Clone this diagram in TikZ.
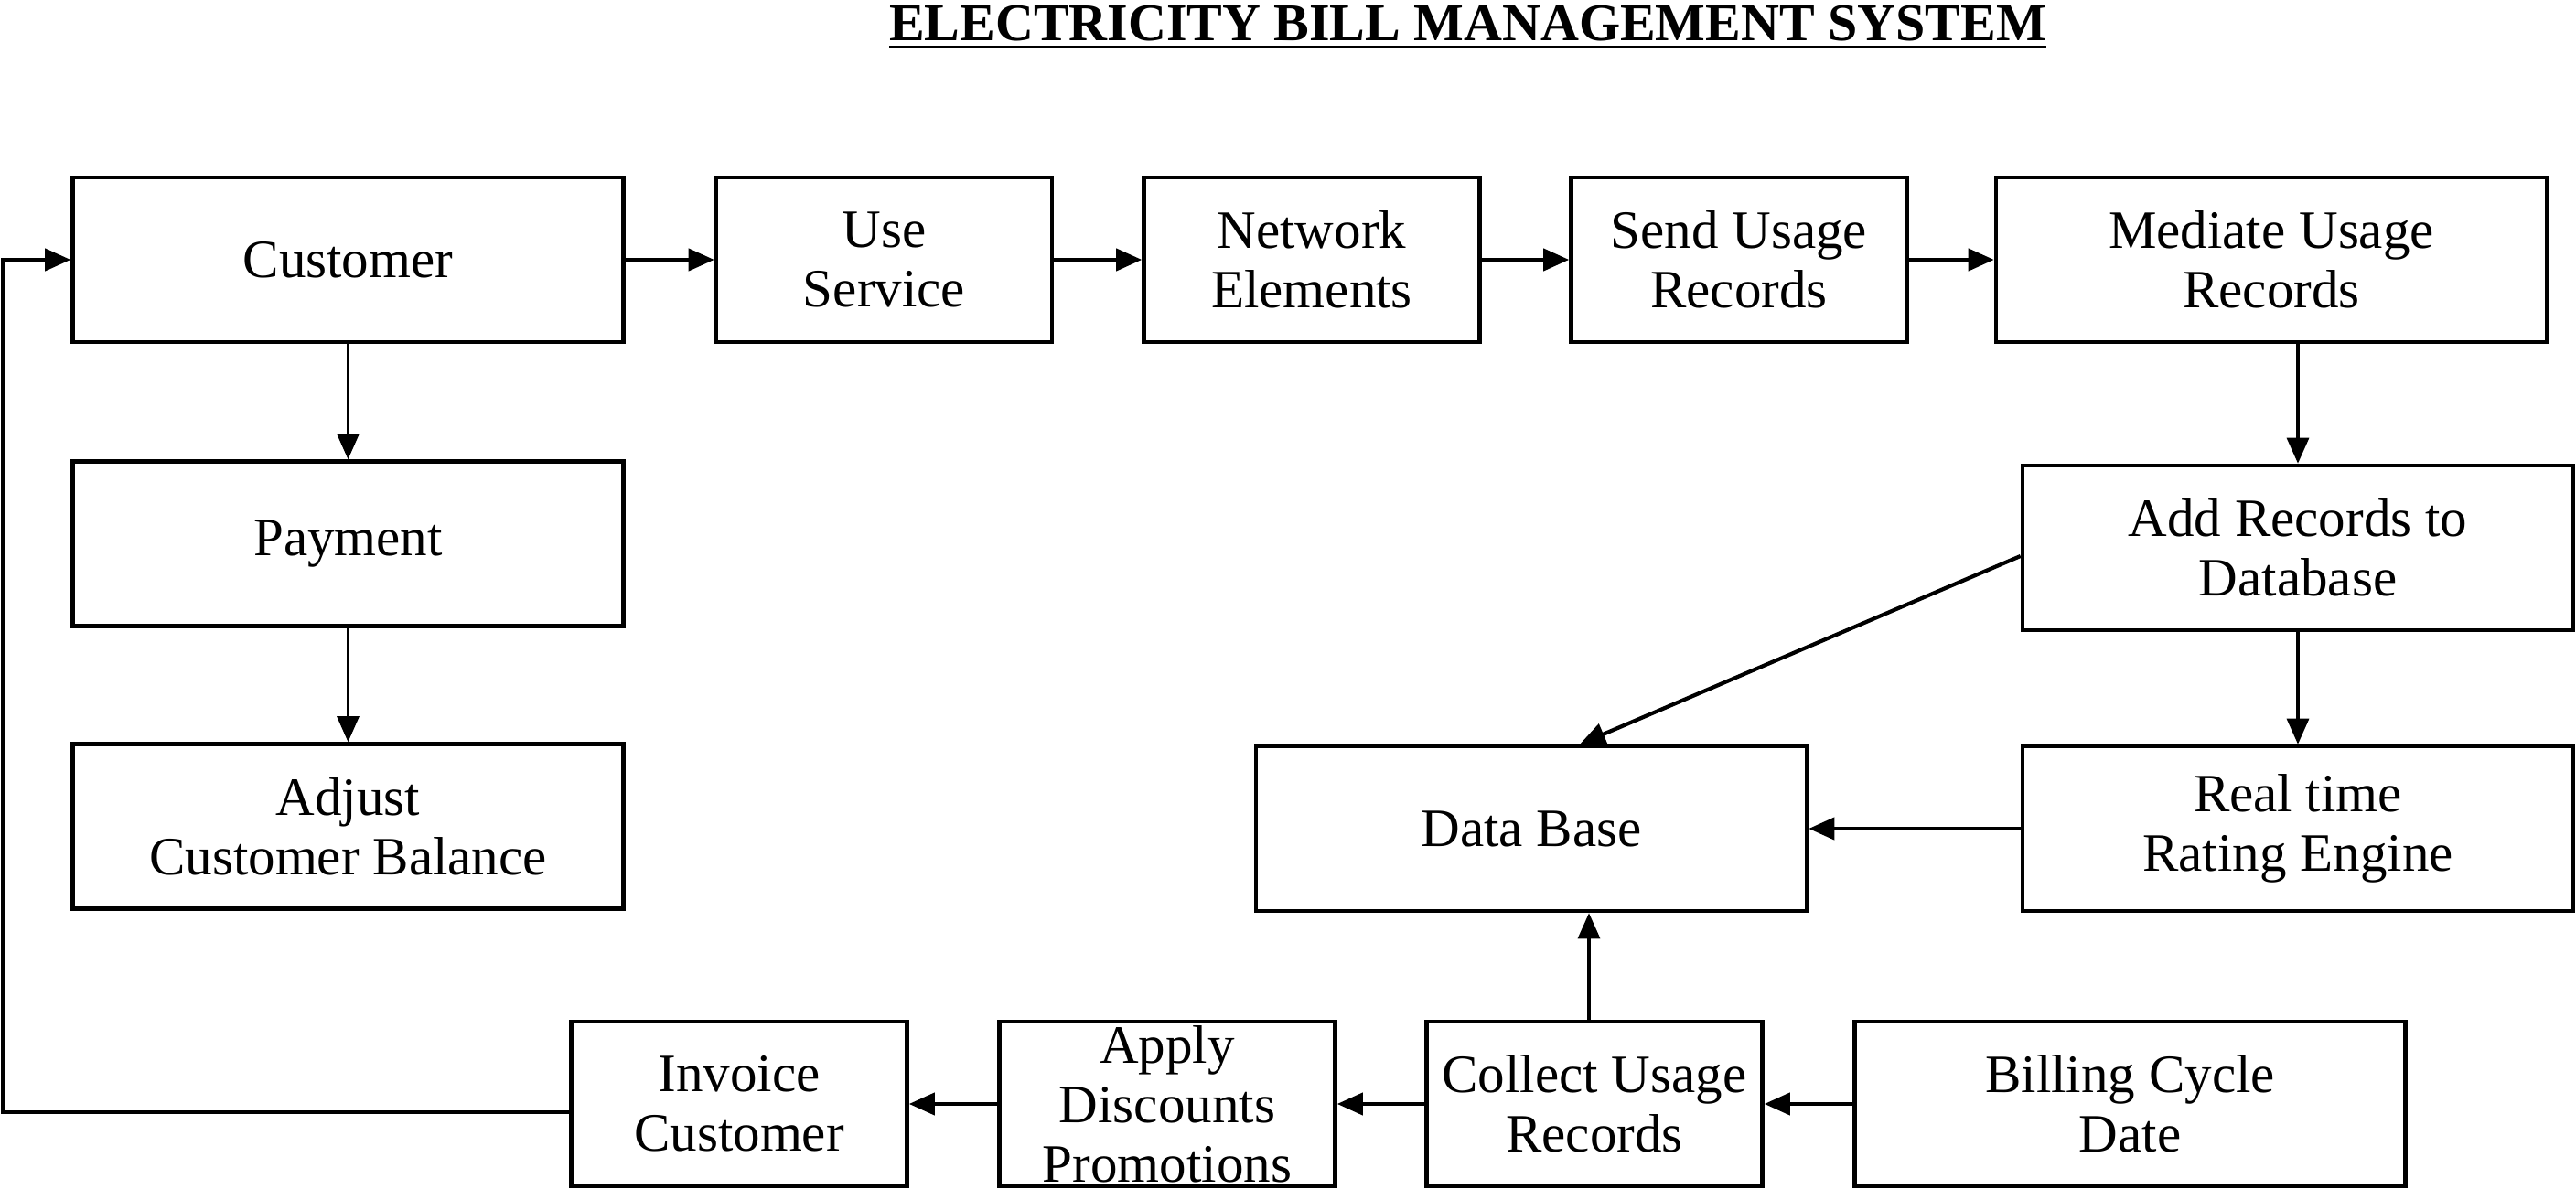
\documentclass[tikz,border=0pt]{standalone}
\usepackage{fontspec}
\setmainfont{Liberation Serif}
\usetikzlibrary{arrows.meta}

\newcommand{\titleunder}[1]{\setbox0\hbox{#1}\rlap{\rule[-2.3pt]{\wd0}{0.9pt}}\box0}

\begin{document}
\begin{tikzpicture}[
        blk/.style={draw, line width=1.3pt, inner sep=0pt, align=center,
            minimum height=1.8cm, font=\fontsize{16.8}{18.5}\selectfont},
        wide/.style={blk, minimum width=6.02cm},
        narrow/.style={blk, minimum width=3.67cm},
        arr/.style={line width=1.2pt, -{Triangle[length=2.8mm, width=2.4mm]}},
        thinarr/.style={line width=0.9pt, -{Triangle[length=2.8mm, width=2.4mm]}}
    ]
        \useasboundingbox (0,0) rectangle (28.16,-13);

        \node[anchor=base, font=\fontsize{16.5}{18.5}\selectfont\bfseries] (title) at (16.045,-0.45)
        {\titleunder{ELECTRICITY BILL MANAGEMENT SYSTEM}};

        % top row
        \node[wide] (cust) at (3.805,-2.84) {Customer};
        \node[narrow] (use) at (9.665,-2.84) {Use\\Service};
        \node[narrow] (net) at (14.34,-2.84) {Network\\Elements};
        \node[narrow] (send) at (19.01,-2.84) {Send Usage\\Records};
        \node[wide] (med) at (24.83,-2.84) {Mediate Usage\\Records};

        % left column
        \node[wide] (pay) at (3.805,-5.945) {Payment};
        \node[wide] (adj) at (3.805,-9.035) {Adjust\\Customer Balance};

        % right part
        \node[wide] (add) at (25.12,-5.99) {Add Records to\\Database};
        \node[wide] (rate) at (25.12,-9.06) {Real time\\Rating Engine};
        \node[wide] (db) at (16.74,-9.06) {Data Base};

        % bottom row
        \node[narrow] (inv) at (8.08,-12.07) {Invoice\\Customer};
        \node[narrow, label={[align=center, font=\fontsize{16.8}{18.5}\selectfont]center:Apply\\Discounts\\Promotions}]
        (app) at (12.76,-12.07) {};
        \node[narrow] (col) at (17.43,-12.07) {Collect Usage\\Records};
        \node[wide] (bill) at (23.285,-12.07) {Billing Cycle\\Date};

        \coordinate (back) at (0.03,-2.84);

        \draw[arr] (cust) -- (use);
        \draw[arr] (use) -- (net);
        \draw[arr] (net) -- (send);
        \draw[arr] (send) -- (med);
        \draw[thinarr] (cust) -- (pay);
        \draw[thinarr] (pay) -- (adj);
        \draw[thinarr] (med.south -| add) -- (add.north);
        \draw[thinarr] (add) -- (rate);
        \draw[arr] ([yshift=-0.9mm]add.west) -- ([xshift=5.3mm]db.north);
        \draw[arr] (rate) -- (db);
        \draw[thinarr] ([xshift=-0.6mm]col.north) -- ([xshift=-0.6mm]col.north |- db.south);
        \draw[arr] (bill) -- (col);
        \draw[arr] (col) -- (app);
        \draw[arr] (app) -- (inv);
        \draw[arr] ([yshift=-0.9mm]inv.west) -| (back) -- (cust.west);
    \end{tikzpicture}
\end{document}
